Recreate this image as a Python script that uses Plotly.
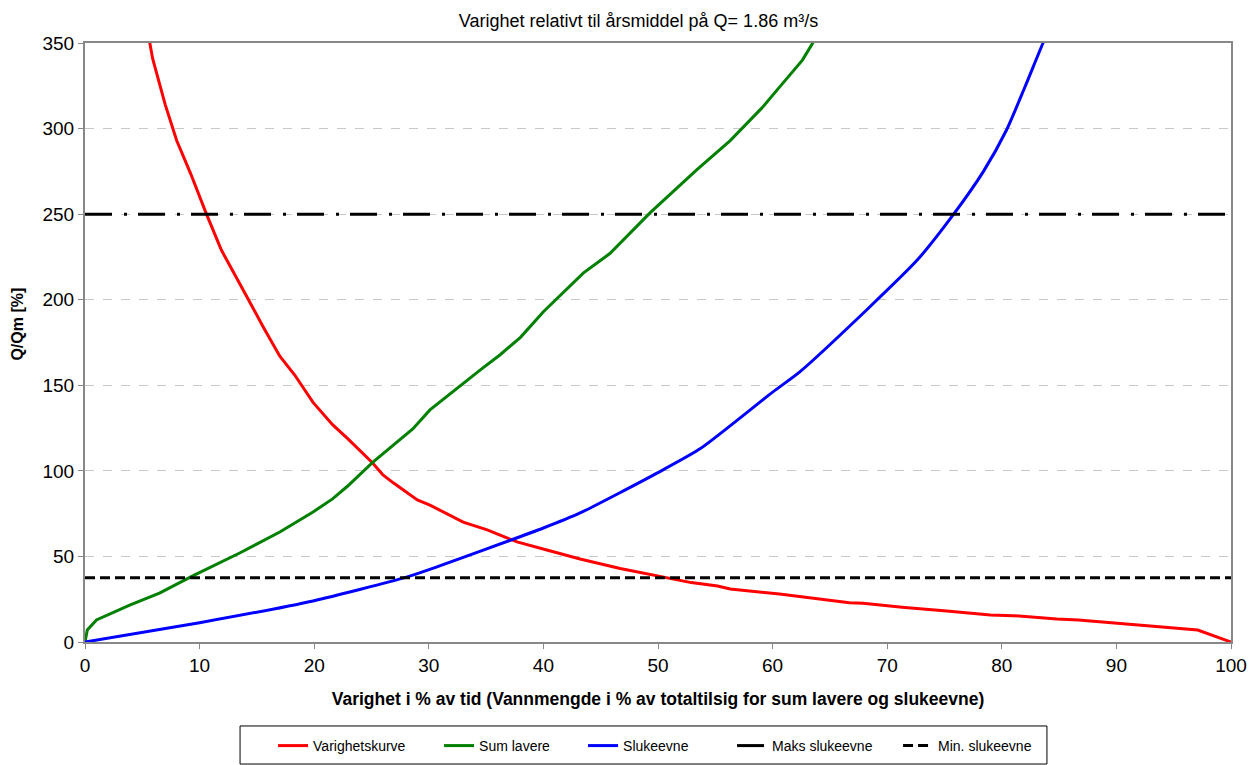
import plotly.graph_objects as go

# ---- data ----
var_x = [5.6, 5.9, 7.0, 8.0, 9.2, 10.6, 11.9, 12.9, 14.1, 15.6, 17.0, 18.3, 19.9, 21.6, 22.9,
         25.1, 26.0, 26.9, 28.1, 29.0, 30.1, 33.0, 35.1, 37.7, 40.3, 43.2, 46.7, 50.0, 52.9,
         55.2, 56.3, 60.6, 66.7, 67.9, 71.3, 75.2, 79.0, 81.0, 84.8, 86.7, 90.2, 93.3, 97.1, 100.0]
var_y = [352, 341, 314, 293, 274, 250, 229, 217, 202, 183.5, 167, 156, 140, 127, 119,
         104.6, 97.6, 93, 87, 83, 80, 70, 65.5, 58.5, 53.8, 48.5, 43, 38.6, 34.7,
         32.7, 31, 28, 23, 22.6, 20.3, 18.1, 15.8, 15.4, 13.4, 12.9, 10.9, 9, 7, 0]

sum_x = [0, 0.2, 1.0, 3.9, 6.5, 9.4, 13.5, 17.0, 19.9, 21.6, 22.9, 25.1, 28.6, 30.1, 34.5,
         36.2, 38.0, 40.0, 43.5, 45.8, 49.3, 53.4, 56.3, 59.2, 60.4, 62.6, 63.5, 63.6]
sum_y = [0, 7, 12.9, 21.6, 28.6, 38.6, 52, 64.3, 76, 83.6, 91, 105, 124.5, 135.6, 159,
         167.7, 178, 193, 215.7, 227, 250.7, 276, 293, 313, 322.6, 340, 350, 352]

sluk_x = [0, 10, 19.9, 27.9, 29.9, 40, 43.2, 50, 53.7, 60, 62.4, 68.2, 72.6, 75.8, 78.4,
          80.4, 82.0, 83.6, 83.75]
sluk_y = [0, 11.3, 24, 37.6, 42, 66.6, 75.4, 99, 113, 146, 158, 194, 223, 250, 275,
          299, 324, 350, 352]

maks_x = [0, 100]
maks_y = [250, 250]
min_x = [0, 100]
min_y = [37.6, 37.6]

x_ticks = [0, 10, 20, 30, 40, 50, 60, 70, 80, 90, 100]
y_ticks = [0, 50, 100, 150, 200, 250, 300, 350]

FONT = "Liberation Sans, Arial, sans-serif"

fig = go.Figure()
fig.add_trace(go.Scatter(x=var_x, y=var_y, mode="lines", name="Varighetskurve",
                         legendwidth=121,
                         line=dict(color="#FF0000", width=3)))
fig.add_trace(go.Scatter(x=sum_x, y=sum_y, mode="lines", name="Sum lavere",
                         legendwidth=99,
                         line=dict(color="#008000", width=3)))
fig.add_trace(go.Scatter(x=sluk_x, y=sluk_y, mode="lines", name="Slukeevne",
                         legendwidth=104,
                         line=dict(color="#0000FF", width=3, shape="spline", smoothing=0.6)))
fig.add_trace(go.Scatter(x=maks_x, y=maks_y, mode="lines", name="Maks slukeevne",
                         legendwidth=121,
                         line=dict(color="#000000", width=3, dash="27px,12px,3px,11px")))
fig.add_trace(go.Scatter(x=min_x, y=min_y, mode="lines", name="Min. slukeevne",
                         legendwidth=100,
                         line=dict(color="#000000", width=3, dash="10px,5px")))

# legend frame
fig.add_shape(type="rect", xref="paper", yref="paper",
              x0=0.1353, x1=0.8394, y0=-0.2037, y1=-0.1402,
              line=dict(color="#000000", width=1), fillcolor="rgba(0,0,0,0)")

# y-axis title (placed slightly above centre as in the reference)
fig.add_annotation(text="<b>Q/Qm [%]</b>", xref="paper", yref="paper",
                   x=-0.0593, y=0.53, textangle=-90, showarrow=False,
                   xanchor="center", yanchor="middle",
                   font=dict(size=16, family=FONT, color="#000000"))

fig.update_layout(
    width=1251, height=757,
    margin=dict(l=77, r=28, t=35, b=123, autoexpand=False),
    paper_bgcolor="white", plot_bgcolor="white",
    font=dict(family=FONT, color="#000000"),
    title=dict(text="Varighet relativt til årsmiddel på Q= 1.86 m³/s",
               x=0.504, xanchor="center", y=0.9835, yanchor="middle",
               font=dict(size=18, family=FONT, color="#000000")),
    showlegend=True,
    legend=dict(orientation="h", x=0.1641, xanchor="left", y=-0.1736, yanchor="middle",
                font=dict(size=14, family=FONT), bgcolor="rgba(0,0,0,0)",
                borderwidth=0),
    xaxis=dict(range=[0, 100], tickvals=x_ticks, ticks="outside", ticklen=5,
               tickcolor="#888888", showline=True, linecolor="#888888", linewidth=2,
               mirror=True, showgrid=False, zeroline=False,
               tickfont=dict(size=19, family=FONT),
               title=dict(text="<b>Varighet i % av tid (Vannmengde i % av totaltilsig for sum lavere og slukeevne)</b>",
                          font=dict(size=17.5, family=FONT), standoff=18)),
    yaxis=dict(range=[0, 350], tickvals=y_ticks, ticks="outside", ticklen=5,
               tickcolor="#888888", showline=True, linecolor="#888888", linewidth=2,
               mirror=True, showgrid=True, gridcolor="#c8c8c8", griddash="dash",
               gridwidth=1, zeroline=False,
               tickfont=dict(size=19, family=FONT)),
)

fig.write_html("out.html")
